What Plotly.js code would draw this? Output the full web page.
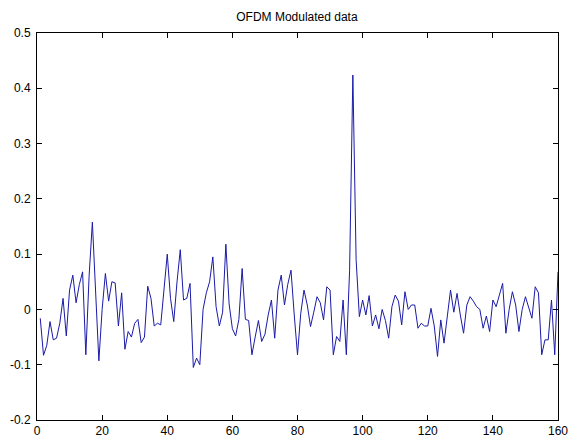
<!DOCTYPE html>
<html>
<head>
<meta charset="utf-8">
<script src="https://cdn.plot.ly/plotly-3.0.1.min.js"></script>
<style>
  html, body { margin: 0; padding: 0; background: #ffffff; }
  #chart { width: 571px; height: 441px; }
</style>
</head>
<body>
<div id="chart"></div>
<script>
// Sample index of the modulated OFDM frame (1..160)
const sampleIndex = Array.from({ length: 160 }, (_, i) => i + 1);

// Real part of the modulated time-domain signal
const signalValues = [
  -0.016, -0.083, -0.065, -0.022, -0.055, -0.052, -0.025, 0.020, -0.048, 0.035,
   0.062,  0.012,  0.045,  0.068, -0.082,  0.060,  0.158, 0.030, -0.093, 0.000,
   0.065,  0.015,  0.050,  0.048, -0.030,  0.030, -0.072, -0.040, -0.050, -0.025,
  -0.018, -0.060, -0.050,  0.042,  0.020, -0.030, -0.025, -0.028,  0.030, 0.100,
   0.020, -0.022,  0.050,  0.108,  0.017,  0.020,  0.047, -0.105, -0.088, -0.100,
   0.000,  0.030,  0.050,  0.095,  0.005, -0.030, -0.005,  0.118,  0.010, -0.035,
  -0.048, -0.018,  0.074, -0.018, -0.020, -0.082, -0.050, -0.020, -0.058, -0.045,
  -0.010,  0.017, -0.052,  0.035,  0.062,  0.008,  0.045,  0.071, -0.010, -0.082,
  -0.007,  0.035,  0.008, -0.031, -0.005,  0.023,  0.012, -0.019,  0.041, 0.035,
  -0.082, -0.049, -0.058,  0.017, -0.082,  0.071,  0.424,  0.090, -0.013, 0.017,
  -0.010,  0.025, -0.030, -0.010, -0.035,  0.000, -0.020, -0.052,  0.005, 0.026,
   0.015, -0.028,  0.032,  0.000,  0.008,  0.008, -0.034, -0.025, -0.030, -0.030,
   0.002, -0.030, -0.085, -0.019, -0.061, -0.007,  0.035, -0.005,  0.029, -0.010,
  -0.043,  0.008,  0.023,  0.015,  0.005,  0.000, -0.034, -0.012, -0.040, 0.017,
   0.005,  0.026,  0.047, -0.043,  0.000,  0.032,  0.008, -0.040,  0.000, 0.023,
   0.005, -0.016,  0.041,  0.030, -0.082, -0.055, -0.055,  0.017, -0.082, 0.068
];

// Axis tick positions and labels
const xTickVals = [0, 20, 40, 60, 80, 100, 120, 140, 160];
const xTickText = ["0", "20", "40", "60", "80", "100", "120", "140", "160"];
const yTickVals = [-0.2, -0.1, 0, 0.1, 0.2, 0.3, 0.4, 0.5];
const yTickText = ["-0.2", "-0.1", "0", "0.1", "0.2", "0.3", "0.4", "0.5"];

const trace = {
  x: sampleIndex,
  y: signalValues,
  type: "scatter",
  mode: "lines",
  line: { color: "#1a1aa8", width: 1 },
  hoverinfo: "x+y"
};

const axisCommon = {
  showline: true,
  linecolor: "#000000",
  linewidth: 1,
  mirror: "ticks",
  ticks: "inside",
  ticklen: 5,
  tickwidth: 1,
  tickcolor: "#000000",
  showgrid: false,
  zeroline: false,
  tickmode: "array",
  tickfont: { family: "Liberation Sans, Arial, sans-serif", size: 12, color: "#000000" }
};

const layout = {
  width: 571,
  height: 441,
  paper_bgcolor: "#ffffff",
  plot_bgcolor: "#ffffff",
  margin: { l: 37, r: 13, t: 33, b: 21 },
  showlegend: false,
  title: {
    text: "OFDM Modulated data",
    font: { family: "Liberation Sans, Arial, sans-serif", size: 12, color: "#000000" },
    x: 0.52,
    xanchor: "center",
    y: 0.962,
    yanchor: "middle"
  },
  xaxis: Object.assign({}, axisCommon, {
    range: [0, 160],
    tickvals: xTickVals,
    ticktext: xTickText
  }),
  yaxis: Object.assign({}, axisCommon, {
    range: [-0.2, 0.5],
    tickvals: yTickVals,
    ticktext: yTickText,
    ticklabelstandoff: 3
  })
};

Plotly.newPlot("chart", [trace], layout, { displayModeBar: false, staticPlot: true });
</script>
</body>
</html>
